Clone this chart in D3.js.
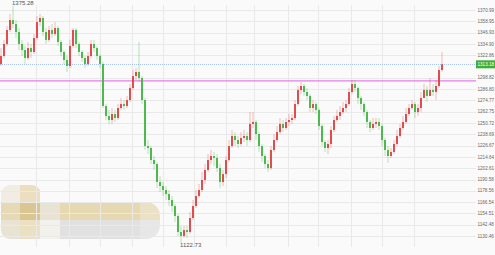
<!DOCTYPE html>
<meta charset='utf-8'>
<style>
body { margin: 0; background: #fafafa; }
svg { display: block; font-family: 'Liberation Sans', Arial, sans-serif; }
.grid line { stroke: #e9e9e9; stroke-width: 1px; shape-rendering: crispEdges; }
.ylabel { font-size: 4.6px; fill: #666; }
.mark { font-size: 6px; fill: #555; }
</style>
<svg id='chart' width='495' height='255'></svg>
<script src="https://cdn.jsdelivr.net/npm/d3@7/dist/d3.min.js"></script>
<script>

// price axis labels
const yTicks = [1370.99, 1358.95, 1346.93, 1334.90, 1322.86, 1298.82, 1286.80, 1274.77,
  1262.75, 1250.72, 1238.69, 1226.67, 1214.64, 1202.61, 1190.58, 1178.56, 1166.54,
  1154.51, 1142.48, 1130.46];

// candle index where the vertical grid lines fall
const gridIdx = [11.5, 22.5, 33, 43.5, 54, 64.5, 75, 84.5, 95.5, 105.5, 116.5, 127, 137.5];

const firstOpen = 1313.5;

const closes = [
  1322.0, 1334.8, 1349.7, 1360.3, 1356.1, 1347.6, 1334.8, 1328.4, 1319.9, 1330.5,
  1326.3, 1341.2, 1358.2, 1362.5, 1347.6, 1339.1, 1349.7, 1345.4, 1351.8, 1336.9,
  1326.3, 1317.8, 1311.4, 1332.7, 1349.7, 1334.8, 1326.3, 1319.9, 1313.5, 1322.0,
  1334.8, 1330.5, 1322.0, 1313.5, 1268.8, 1258.2, 1253.9, 1260.3, 1256.0, 1266.7,
  1270.9, 1268.8, 1275.2, 1288.0, 1300.7, 1305.0, 1298.6, 1275.2, 1226.2, 1224.1,
  1211.3, 1207.1, 1187.9, 1183.7, 1179.4, 1175.2, 1168.8, 1162.4, 1151.7, 1134.7,
  1130.5, 1136.8, 1134.7, 1149.6, 1162.4, 1173.0, 1179.4, 1190.1, 1200.7, 1211.3,
  1215.6, 1213.5, 1202.8, 1187.9, 1196.4, 1211.3, 1226.2, 1236.9, 1232.6, 1228.4,
  1234.8, 1236.9, 1232.6, 1249.7, 1251.8, 1239.0, 1226.2, 1215.6, 1207.1, 1202.8,
  1222.0, 1232.6, 1241.1, 1249.7, 1245.4, 1251.8, 1253.9, 1256.0, 1270.9, 1285.8,
  1290.1, 1283.7, 1279.5, 1266.7, 1270.9, 1264.6, 1247.5, 1230.5, 1224.1, 1228.4,
  1243.3, 1253.9, 1258.2, 1262.4, 1266.7, 1270.9, 1283.7, 1292.2, 1288.0, 1277.3,
  1270.9, 1262.4, 1251.8, 1245.4, 1249.7, 1251.8, 1247.5, 1232.6, 1222.0, 1215.6,
  1219.9, 1228.4, 1236.9, 1245.4, 1251.8, 1260.3, 1266.7, 1270.9, 1262.4, 1266.7,
  1277.3, 1285.8, 1279.5, 1285.8, 1283.7, 1290.1, 1307.1, 1313.18
];

const highs = [
  1330.5, 1339.1, 1354.0, 1366.7, 1375.28, 1360.3, 1351.8, 1339.1, 1332.7, 1336.9,
  1334.8, 1345.4, 1364.6, 1366.7, 1364.6, 1351.8, 1354.0, 1356.1, 1358.2, 1354.0,
  1339.1, 1328.4, 1322.0, 1339.1, 1351.8, 1351.8, 1336.9, 1328.4, 1322.0, 1326.3,
  1339.1, 1339.1, 1332.7, 1324.2, 1315.6, 1270.9, 1264.6, 1266.7, 1264.6, 1270.9,
  1277.3, 1275.2, 1279.5, 1292.2, 1307.1, 1309.3, 1336.9, 1300.7, 1277.3, 1232.6,
  1226.2, 1215.6, 1209.2, 1194.3, 1187.9, 1183.7, 1179.4, 1173.0, 1164.5, 1153.9,
  1141.1, 1141.1, 1141.1, 1156.0, 1168.8, 1179.4, 1185.8, 1198.6, 1207.1, 1217.7,
  1222.0, 1219.9, 1217.7, 1207.1, 1200.7, 1215.6, 1232.6, 1243.3, 1241.1, 1236.9,
  1241.1, 1243.3, 1241.1, 1262.4, 1262.4, 1253.9, 1241.1, 1228.4, 1217.7, 1211.3,
  1226.2, 1239.0, 1247.5, 1256.0, 1253.9, 1256.0, 1260.3, 1260.3, 1275.2, 1290.1,
  1294.4, 1292.2, 1288.0, 1281.6, 1275.2, 1273.1, 1266.7, 1249.7, 1232.6, 1232.6,
  1247.5, 1258.2, 1264.6, 1268.8, 1273.1, 1275.2, 1288.0, 1296.5, 1296.5, 1290.1,
  1279.5, 1273.1, 1264.6, 1253.9, 1256.0, 1256.0, 1256.0, 1249.7, 1234.8, 1226.2,
  1224.1, 1232.6, 1243.3, 1249.7, 1258.2, 1266.7, 1270.9, 1275.2, 1273.1, 1270.9,
  1283.7, 1292.2, 1290.1, 1298.6, 1292.2, 1296.5, 1311.4, 1326.3
];

const lows = [
  1311.4, 1319.9, 1332.7, 1347.6, 1351.8, 1341.2, 1328.4, 1322.0, 1313.5, 1317.8,
  1319.9, 1324.2, 1339.1, 1354.0, 1343.3, 1334.8, 1336.9, 1341.2, 1343.3, 1332.7,
  1322.0, 1313.5, 1305.0, 1309.3, 1330.5, 1330.5, 1322.0, 1315.6, 1309.3, 1311.4,
  1319.9, 1326.3, 1317.8, 1309.3, 1266.7, 1253.9, 1249.7, 1249.7, 1251.8, 1253.9,
  1264.6, 1264.6, 1266.7, 1273.1, 1285.8, 1296.5, 1294.4, 1270.9, 1222.0, 1217.7,
  1207.1, 1200.7, 1181.5, 1177.3, 1173.0, 1168.8, 1162.4, 1156.0, 1145.4, 1130.5,
  1122.73, 1128.3, 1128.3, 1132.6, 1147.5, 1160.3, 1170.9, 1177.3, 1185.8, 1198.6,
  1207.1, 1205.0, 1198.6, 1181.5, 1183.7, 1192.2, 1209.2, 1224.1, 1226.2, 1224.1,
  1226.2, 1230.5, 1226.2, 1230.5, 1245.4, 1232.6, 1219.9, 1209.2, 1202.8, 1198.6,
  1200.7, 1219.9, 1230.5, 1239.0, 1241.1, 1243.3, 1247.5, 1249.7, 1253.9, 1268.8,
  1281.6, 1279.5, 1275.2, 1262.4, 1262.4, 1260.3, 1243.3, 1226.2, 1219.9, 1217.7,
  1224.1, 1241.1, 1251.8, 1253.9, 1260.3, 1262.4, 1268.8, 1281.6, 1283.7, 1270.9,
  1264.6, 1258.2, 1245.4, 1241.1, 1243.3, 1245.4, 1243.3, 1226.2, 1215.6, 1208.2,
  1213.5, 1217.7, 1226.2, 1234.8, 1243.3, 1249.7, 1258.2, 1264.6, 1256.0, 1258.2,
  1262.4, 1277.3, 1273.1, 1279.5, 1279.5, 1275.2, 1288.0, 1305.0
];

const levelLine = 1295.6;

const plotRight = 476;
const upColor = '#e03c3c';
const downColor = '#3cb43c';

const svg = d3.select('#chart');

const x = d3.scaleLinear().domain([0, closes.length - 1]).range([1, 442]);
const y = d3.scaleLinear().domain([1130.46, 1370.99]).range([236, 10]);

const candles = closes.map((c, i) => ({
  i: i,
  open: i === 0 ? firstOpen : closes[i - 1],
  close: c,
  high: highs[i],
  low: lows[i]
}));

// blurred logo in the bottom-left corner
const blur = svg.append('g');
const clip = svg.append('clipPath').attr('id', 'blurclip');
clip.append('rect').attr('x', 1).attr('y', 185).attr('width', 40).attr('height', 54).attr('rx', 9);
clip.append('rect').attr('x', 1).attr('y', 202).attr('width', 159).attr('height', 37).attr('rx', 14);
blur.attr('clip-path', 'url(#blurclip)');
const blocks = [
  [0, 185, 20, 17, '#f1ede2'], [20, 185, 20, 17, '#ebdfbf'],
  [0, 202, 20, 18, '#e6d9b6'], [20, 202, 20, 18, '#d9c692'], [40, 202, 20, 18, '#e8e3d4'],
  [60, 202, 80, 18, '#e6d8b0'], [140, 202, 20, 18, '#ebe1c6'],
  [0, 220, 20, 19, '#e9e3d3'], [20, 220, 20, 19, '#ebe0c1'], [40, 220, 20, 19, '#f2f1ec'],
  [60, 220, 80, 19, '#e1e1e1'], [140, 220, 20, 19, '#e7e7e7']
];
blur.selectAll('rect').data(blocks).join('rect')
  .attr('x', d => d[0]).attr('y', d => d[1])
  .attr('width', d => d[2]).attr('height', d => d[3])
  .attr('fill', d => d[4]);

// grid
const grid = svg.append('g').attr('class', 'grid');
grid.selectAll('line.h').data(yTicks).join('line')
  .attr('class', 'h')
  .attr('x1', 0).attr('x2', plotRight)
  .attr('y1', d => Math.round(y(d)) + 0.5).attr('y2', d => Math.round(y(d)) + 0.5);
grid.selectAll('line.v').data(gridIdx).join('line')
  .attr('class', 'v')
  .attr('x1', d => Math.round(x(d)) + 0.5).attr('x2', d => Math.round(x(d)) + 0.5)
  .attr('y1', 5).attr('y2', 247);

svg.append('g').selectAll('text').data(yTicks).join('text')
  .attr('class', 'ylabel')
  .attr('x', 477.5)
  .attr('y', d => y(d))
  .attr('dy', '0.35em')
  .text(d => d.toFixed(2));

// level line
svg.append('line')
  .attr('x1', 0).attr('x2', plotRight)
  .attr('y1', y(levelLine)).attr('y2', y(levelLine))
  .attr('stroke', '#e77de7').attr('stroke-width', 1.2);

// current price line
const last = closes[closes.length - 1];
svg.append('line')
  .attr('x1', 0).attr('x2', plotRight)
  .attr('y1', Math.round(y(last)) + 0.5).attr('y2', Math.round(y(last)) + 0.5)
  .attr('stroke', '#a9c4f5').attr('stroke-width', 1)
  .attr('stroke-dasharray', '1,1');

// candles
const cg = svg.append('g');
cg.selectAll('line').data(candles).join('line')
  .attr('x1', d => x(d.i)).attr('x2', d => x(d.i))
  .attr('y1', d => y(d.high)).attr('y2', d => y(d.low))
  .attr('stroke', d => d.close >= d.open ? upColor : downColor)
  .attr('stroke-opacity', 0.35)
  .attr('stroke-width', 1);
cg.selectAll('rect').data(candles).join('rect')
  .attr('x', d => x(d.i) - 0.9)
  .attr('width', 1.8)
  .attr('y', d => y(Math.max(d.open, d.close)))
  .attr('height', d => Math.max(0.8, Math.abs(y(d.open) - y(d.close))))
  .attr('fill', d => d.close >= d.open ? upColor : downColor);

// current price tag
svg.append('rect')
  .attr('x', 476).attr('y', y(last) - 4)
  .attr('width', 19).attr('height', 8)
  .attr('fill', '#3cae3c');
svg.append('text')
  .attr('class', 'ylabel')
  .attr('x', 477.5).attr('y', y(last)).attr('dy', '0.35em')
  .style('fill', '#fff')
  .text(last.toFixed(2));

// max / min markers
const hiIdx = d3.maxIndex(highs);
const loIdx = d3.minIndex(lows);
svg.append('text').attr('class', 'mark')
  .attr('x', x(hiIdx) - 1).attr('y', y(highs[hiIdx]) - 1)
  .text(highs[hiIdx].toFixed(2));
svg.append('text').attr('class', 'mark')
  .attr('x', x(loIdx) - 1).attr('y', y(lows[loIdx]) + 4)
  .text(lows[loIdx].toFixed(2));

</script>
